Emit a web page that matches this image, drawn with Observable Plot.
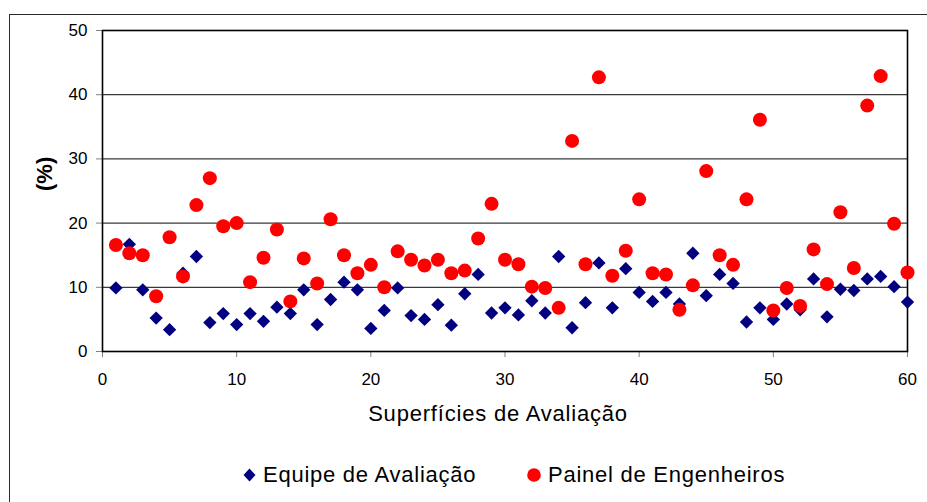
<!DOCTYPE html>
<html>
<head>
<meta charset="utf-8">
<script src="https://cdn.jsdelivr.net/npm/d3@7"></script>
<script src="https://cdn.jsdelivr.net/npm/@observablehq/plot@0.6"></script>
<style>
  body { margin: 0; background: #fff; }
  #chart { position: relative; width: 927px; height: 502px; font-family: "Liberation Sans", Arial, sans-serif; }
  #border { position: absolute; left: 9px; top: 14px; right: 0; bottom: 0; border-left: 1.5px solid #2a2a2a; border-top: 1.5px solid #2a2a2a; pointer-events: none; }
  .key { position: absolute; top: 464px; height: 22px; line-height: 22px; font-size: 22px; letter-spacing: 0.75px; color: #000; white-space: nowrap; }
  .swatch { position: absolute; }
</style>
</head>
<body>
<div id="chart"><div id="border"></div></div>
<script>
// Superfície de avaliação number (1..60)
const superficies = d3.range(1, 61);

// Percentages found by the evaluation team
const equipe = [
  9.9, 16.7, 9.6, 5.2, 3.4, 12.2, 14.8, 4.5, 5.9, 4.2,
  5.9, 4.7, 6.9, 5.9, 9.6, 4.2, 8.1, 10.8, 9.6, 3.6,
  6.4, 9.9, 5.6, 5.0, 7.3, 4.1, 9.0, 12.0, 6.0, 6.8,
  5.7, 7.9, 6.0, 14.8, 3.7, 7.6, 13.8, 6.8, 12.9, 9.2,
  7.8, 9.2, 7.4, 15.3, 8.7, 12.0, 10.6, 4.6, 6.8, 5.0,
  7.4, 6.5, 11.3, 5.4, 9.7, 9.5, 11.3, 11.7, 10.1, 7.7
];

// Percentages given by the panel of engineers
const painel = [
  16.6, 15.3, 15.0, 8.6, 17.8, 11.7, 22.8, 27.0, 19.5, 20.0,
  10.8, 14.6, 19.0, 7.8, 14.5, 10.6, 20.6, 15.0, 12.2, 13.5,
  10.0, 15.6, 14.3, 13.4, 14.3, 12.2, 12.6, 17.6, 23.0, 14.3,
  13.6, 10.1, 9.9, 6.8, 32.8, 13.6, 42.7, 11.8, 15.7, 23.7,
  12.2, 12.0, 6.5, 10.3, 28.1, 15.0, 13.5, 23.7, 36.1, 6.4,
  9.9, 7.1, 15.9, 10.5, 21.7, 13.0, 38.3, 42.9, 19.9, 12.3
];

const xTicks = [0, 10, 20, 30, 40, 50, 60];
const yTicks = [0, 10, 20, 30, 40, 50];
const series = ["Equipe de Avaliação", "Painel de Engenheiros"];
const colors = ["#000080", "#ff0000"];
const xTitle = "Superfícies de Avaliação";

const rowsEquipe = superficies.map((s, i) => ({s, v: equipe[i]}));
const rowsPainel = superficies.map((s, i) => ({s, v: painel[i]}));

const font = '"Liberation Sans", Arial, sans-serif';

const plot = Plot.plot({
  width: 927,
  height: 502,
  marginLeft: 102,
  marginRight: 20,
  marginTop: 30,
  marginBottom: 151,
  style: { fontFamily: font, background: "transparent", overflow: "visible" },
  x: { domain: [0, 60], ticks: xTicks },
  y: { domain: [0, 50], ticks: yTicks },
  marks: [
    Plot.gridY(yTicks.slice(1, -1), { stroke: "#3a3a3a", strokeOpacity: 1, strokeWidth: 1.3 }),
    Plot.axisY({ ticks: yTicks, tickSize: 6, tickPadding: 9, fontSize: 17, stroke: "#808080", label: null }),
    Plot.axisX({ ticks: xTicks, tickSize: 6, tickPadding: 15, fontSize: 17, stroke: "#808080", label: null }),
    Plot.frame({ stroke: "#000", strokeWidth: 1.6 }),
    Plot.dot(rowsEquipe, { x: "s", y: "v", symbol: "diamond2", r: 6, fill: colors[0], stroke: null }),
    Plot.dot(rowsPainel, { x: "s", y: "v", symbol: "circle", r: 7, fill: colors[1], stroke: null }),
    Plot.text(["(%)"], { frameAnchor: "left", dx: -58, rotate: -90, fontSize: 22, fontWeight: "bold", fill: "#000" }),
    Plot.text([xTitle], { frameAnchor: "bottom", lineAnchor: "bottom", dx: -7, dy: 69, fontSize: 22, fill: "#000" })
  ]
});

// Slightly open tracking on the axis title, as in the legend text
d3.select(plot).selectAll("text")
  .filter(function () { return this.textContent === xTitle; })
  .style("letter-spacing", "0.8px");

const chart = document.getElementById("chart");
chart.appendChild(plot);

// Legend below the plot area
const keyLayout = [
  { swatchLeft: 243, textLeft: 263 },
  { swatchLeft: 527, textLeft: 548 }
];
series.forEach((name, i) => {
  const sw = document.createElementNS("http://www.w3.org/2000/svg", "svg");
  sw.setAttribute("width", 14);
  sw.setAttribute("height", 16);
  sw.setAttribute("class", "swatch");
  sw.style.left = keyLayout[i].swatchLeft + "px";
  sw.style.top = "467px";
  if (i === 0) {
    const p = document.createElementNS("http://www.w3.org/2000/svg", "path");
    p.setAttribute("d", "M6.5,1.5L12.5,8L6.5,14.5L0.5,8Z");
    p.setAttribute("fill", colors[0]);
    sw.appendChild(p);
  } else {
    const c = document.createElementNS("http://www.w3.org/2000/svg", "circle");
    c.setAttribute("cx", 7); c.setAttribute("cy", 8); c.setAttribute("r", 6.8);
    c.setAttribute("fill", colors[1]);
    sw.appendChild(c);
  }
  chart.appendChild(sw);
  const t = document.createElement("div");
  t.className = "key";
  t.style.left = keyLayout[i].textLeft + "px";
  t.textContent = name;
  chart.appendChild(t);
});
</script>
</body>
</html>
